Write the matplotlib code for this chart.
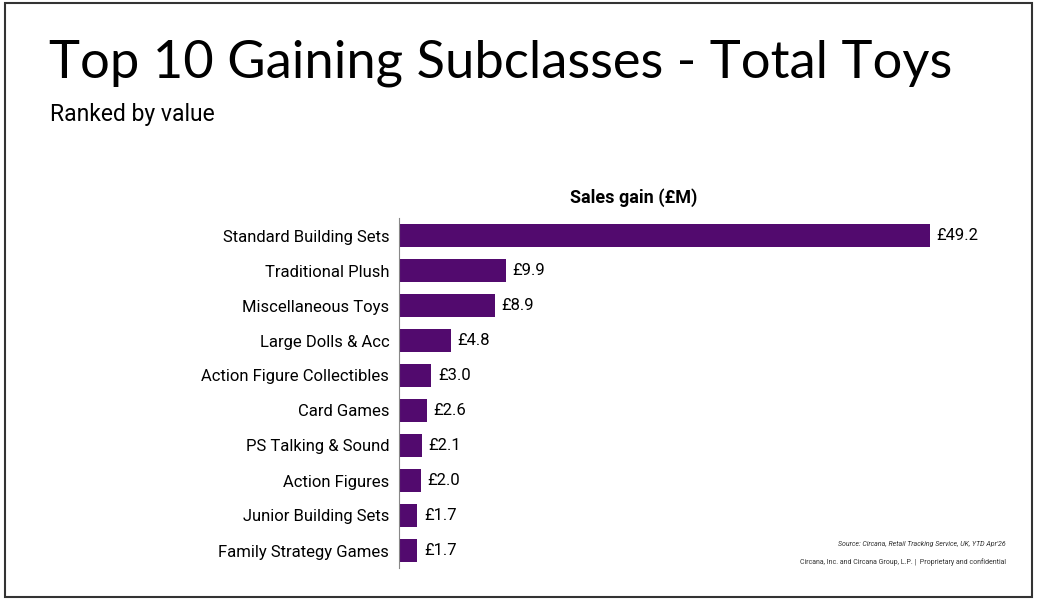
import matplotlib.pyplot as plt
from matplotlib.patches import Rectangle

categories = ['Standard Building Sets', 'Traditional Plush', 'Miscellaneous Toys',
              'Large Dolls & Acc', 'Action Figure Collectibles', 'Card Games',
              'PS Talking & Sound', 'Action Figures', 'Junior Building Sets',
              'Family Strategy Games']
gains = [49.2, 9.9, 8.9, 4.8, 3.0, 2.6, 2.1, 2.0, 1.7, 1.7]

plt.rcParams['font.family'] = ['Roboto', 'DejaVu Sans']

W, H = 1044, 604
fig = plt.figure(figsize=(W / 100, H / 100), dpi=100)

# slide border
fig.patches.append(Rectangle((5 / W, 1 - 597 / H), 1027 / W, 594 / H,
                             transform=fig.transFigure, fill=False,
                             edgecolor='#333333', linewidth=1.5))

fig.text(49 / W, 1 - 63 / H, 'Top 10 Gaining Subclasses - Total Toys',
         fontsize=37.8, family=['Lato', 'DejaVu Sans'], va='center', ha='left')
fig.text(50 / W, 1 - 115 / H, 'Ranked by value', fontsize=16.5, va='center', ha='left')
fig.text(634 / W, 1 - 198 / H, 'Sales gain (£M)', fontsize=13, fontweight='bold',
         va='center', ha='center')

ax = fig.add_axes([399 / W, 1 - 568 / H, 601 / W, 350 / H])
y = range(len(categories))
ax.barh(y, gains, height=0.63, color='#520a6e')
ax.set_xlim(0, 601 / 10.79)
ax.set_ylim(len(categories) - 0.5, -0.5)
ax.set_yticks(list(y))
ax.set_yticklabels(categories, fontsize=12)
ax.tick_params(axis='y', length=0, pad=7)
ax.set_xticks([])
for s in ['top', 'right', 'bottom']:
    ax.spines[s].set_visible(False)
ax.spines['left'].set_color('#888888')
ax.spines['left'].set_linewidth(0.8)
for i, v in enumerate(gains):
    ax.text(v + 0.6, i, f'£{v:.1f}', va='center', ha='left', fontsize=12)

fig.text(1006 / W, 1 - 544 / H, "Source: Circana, Retail Tracking Service, UK, YTD Apr'26",
         fontsize=5, style='italic', ha='right', va='center', color='#333333')
fig.text(1006 / W, 1 - 562 / H, 'Circana, Inc. and Circana Group, L.P. |  Proprietary and confidential',
         fontsize=5, ha='right', va='center', color='#333333')

fig.savefig('out.png', dpi=100)
